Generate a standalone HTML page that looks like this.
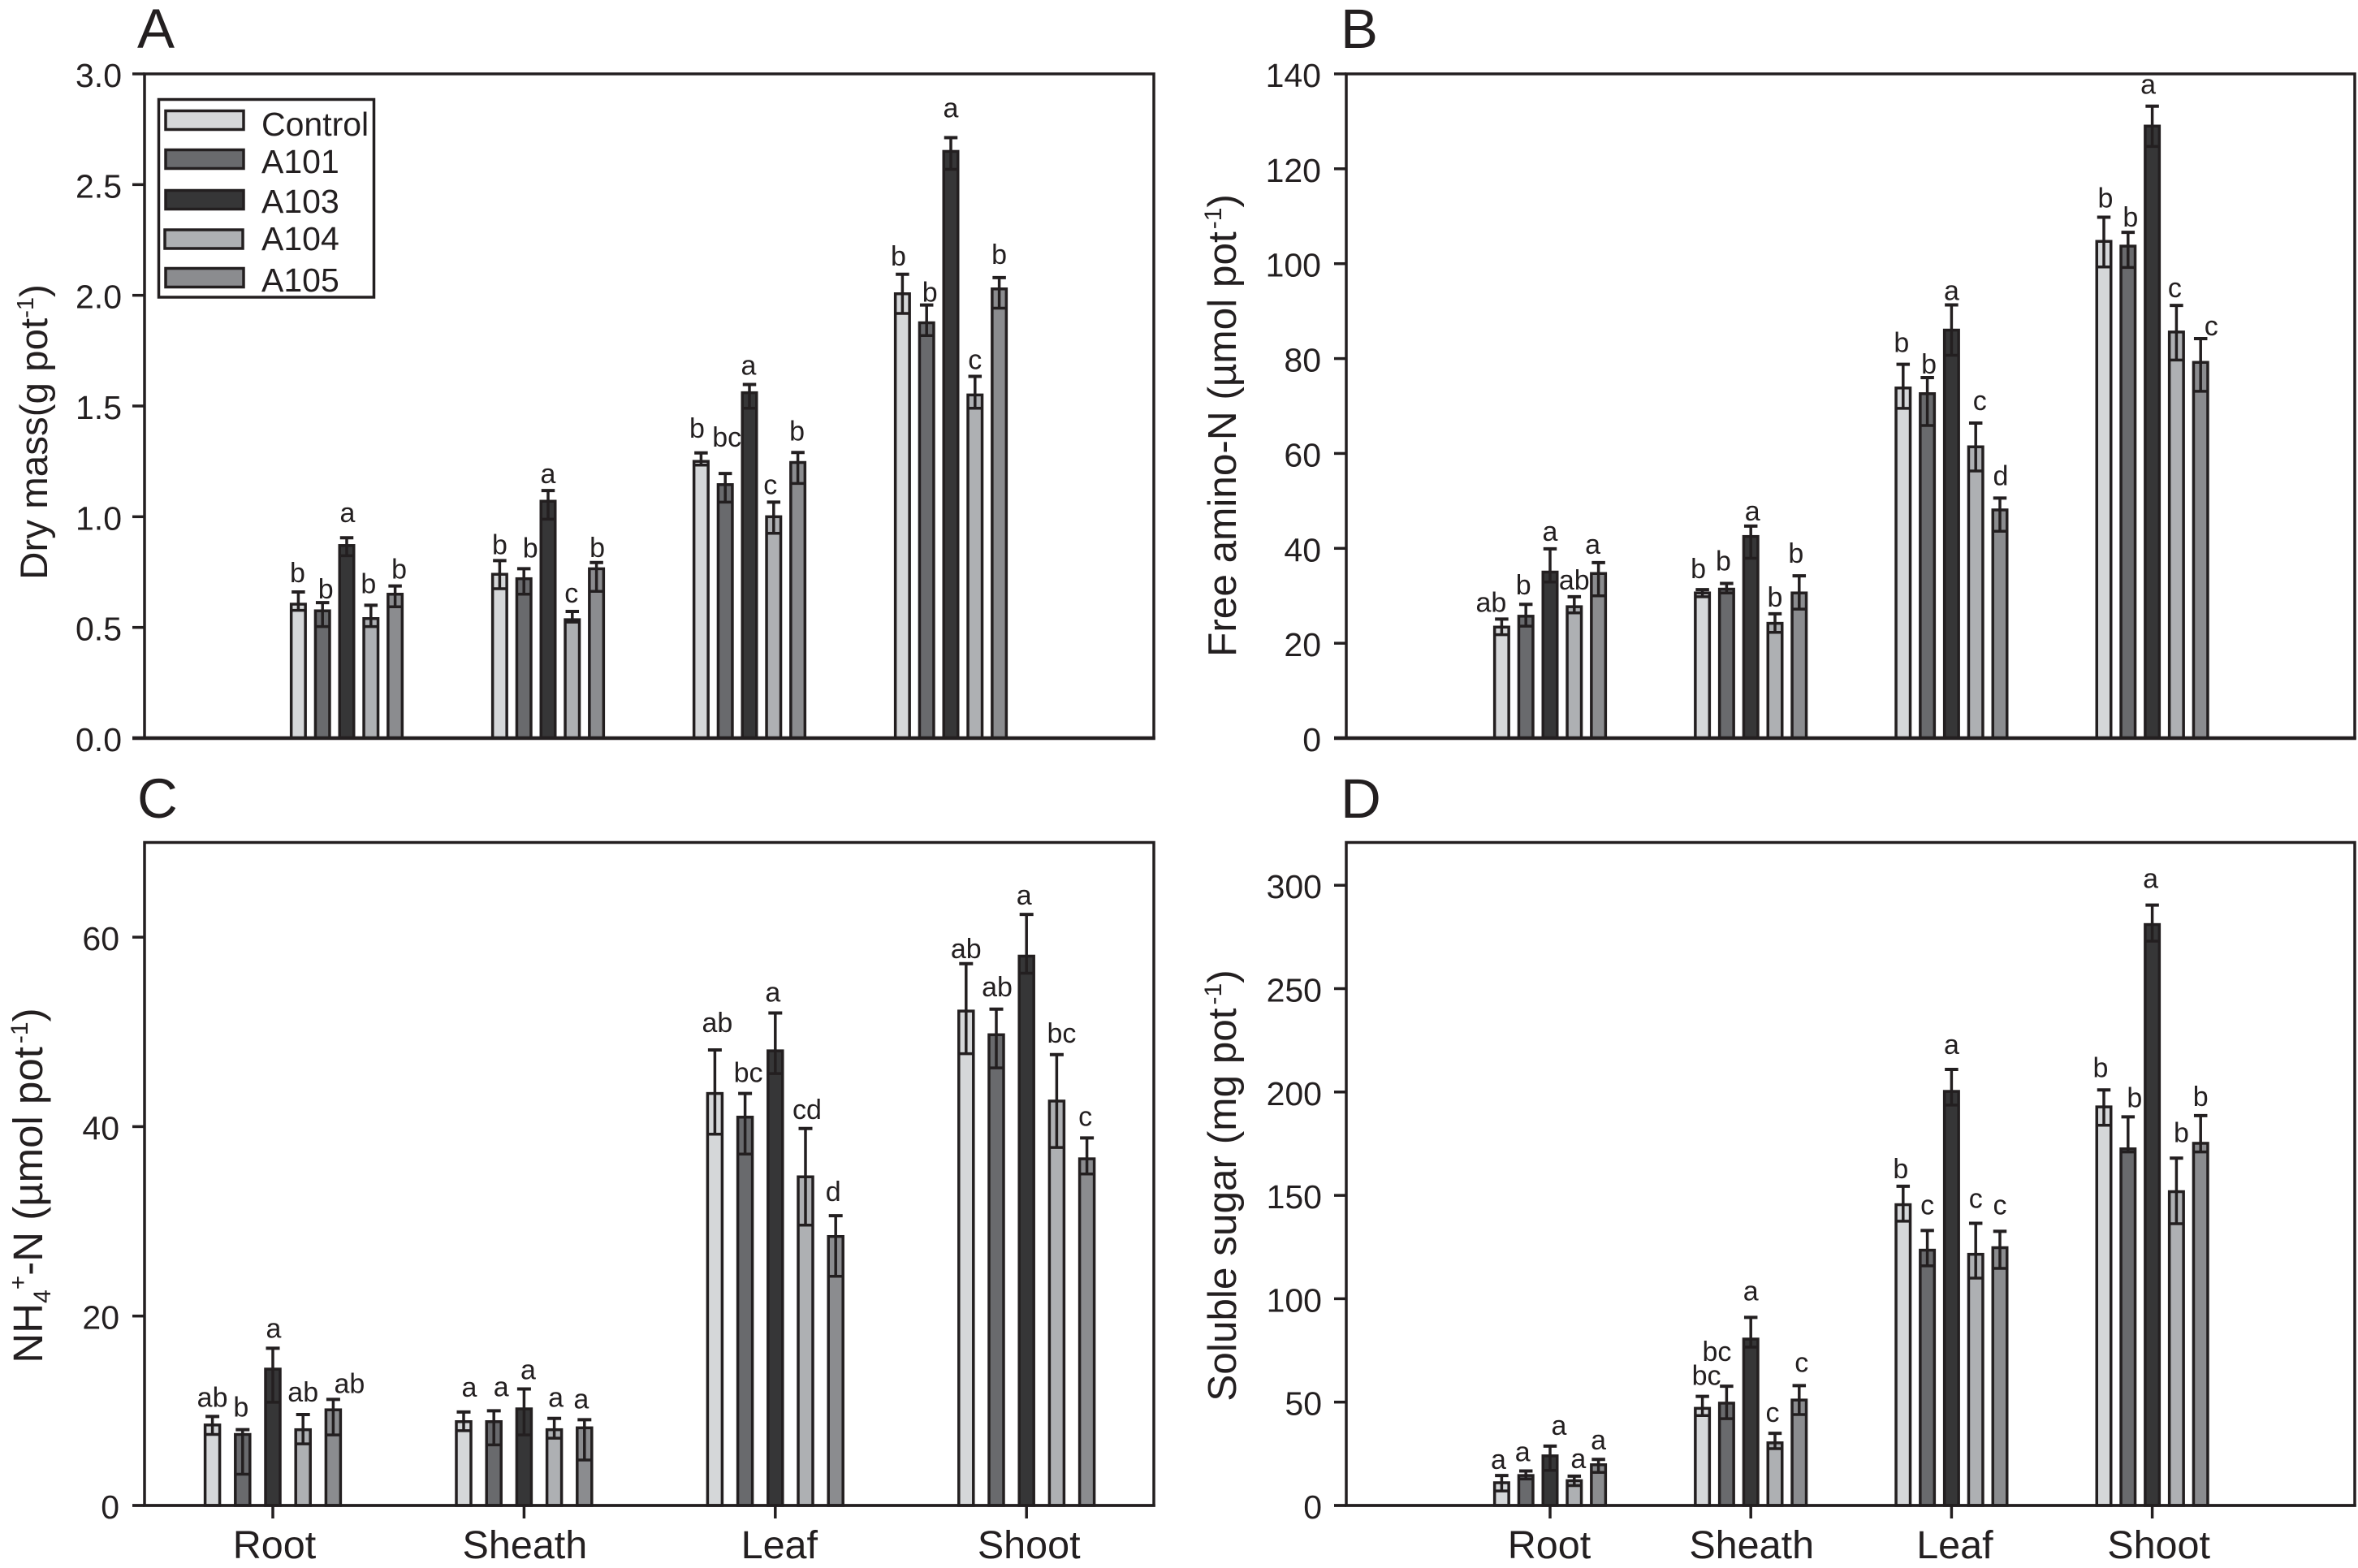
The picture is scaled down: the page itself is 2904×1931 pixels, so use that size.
<!DOCTYPE html>
<html lang="en">
<head>
<meta charset="utf-8">
<title>Dry mass, free amino-N, NH4+-N and soluble sugar by plant part</title>
<style>
html,body{margin:0;padding:0;background:#fff;width:2904px;height:1931px;overflow:hidden}
svg{display:block;font-family:"Liberation Sans",Arial,sans-serif;fill:#231f20}
text{fill:#231f20}
</style>
</head>
<body>
<svg id="figure" xmlns="http://www.w3.org/2000/svg" width="2904" height="1931" viewBox="0 0 2904 1931">
  <rect x="0" y="0" width="2904" height="1931" fill="#ffffff"/>

  <g id="panel-a">
    <text x="169" y="59" font-size="69">A</text>
    <text transform="translate(58,532) rotate(-90)" text-anchor="middle" font-size="47.5">Dry mass(g pot<tspan dy="-17" font-size="29">-1</tspan><tspan dy="17">)</tspan></text>
  </g>
  <g id="panel-b">
    <text x="1651" y="59" font-size="69">B</text>
    <text transform="translate(1522,524) rotate(-90)" text-anchor="middle" font-size="49.5">Free amino-N (µmol pot<tspan dx="3" dy="-18" font-size="30">-1</tspan><tspan dy="18">)</tspan></text>
  </g>
  <g id="panel-c">
    <text x="169" y="1007" font-size="69">C</text>
    <text transform="translate(52,1460) rotate(-90)" text-anchor="middle" font-size="51">NH<tspan dy="10" font-size="30">4</tspan><tspan dy="-30" font-size="30">+</tspan><tspan dy="20">-N (µmol pot</tspan><tspan dx="4" dy="-18" font-size="30">-1</tspan><tspan dy="18">)</tspan></text>
  </g>
  <g id="panel-d">
    <text x="1651" y="1007" font-size="69">D</text>
    <text transform="translate(1522,1460) rotate(-90)" text-anchor="middle" font-size="49.5">Soluble sugar (mg pot<tspan dx="4" dy="-18" font-size="30">-1</tspan><tspan dy="18">)</tspan></text>
  </g>

  <g id="legend">
    <rect x="195.5" y="122.5" width="265" height="243.5" fill="#ffffff" stroke="#231f20" stroke-width="3.5"/>
    <g>
      <rect x="204" y="136.5" width="96" height="23" fill="#d5d7d9" stroke="#231f20" stroke-width="3.5"/>
      <text x="322" y="167" font-size="41">Control</text>
    </g>
    <g>
      <rect x="204" y="184.5" width="96" height="23" fill="#696a6d" stroke="#231f20" stroke-width="3.5"/>
      <text x="322" y="213" font-size="41">A101</text>
    </g>
    <g>
      <rect x="204" y="234.5" width="96" height="23" fill="#363637" stroke="#231f20" stroke-width="3.5"/>
      <text x="322" y="262" font-size="41">A103</text>
    </g>
    <g>
      <rect x="203" y="283" width="96" height="23" fill="#aeb0b3" stroke="#231f20" stroke-width="3.5"/>
      <text x="322" y="308" font-size="41">A104</text>
    </g>
    <g>
      <rect x="204" y="330.5" width="96" height="23" fill="#8b8c8f" stroke="#231f20" stroke-width="3.5"/>
      <text x="322" y="359" font-size="41">A105</text>
    </g>
  </g>
</svg>

<script>
// Shared categories and series. Every table below has rows = category, columns = series.
const categories = ['Root', 'Sheath', 'Leaf', 'Shoot'];
const seriesNames = ['Control', 'A101', 'A103', 'A104', 'A105'];

// Panel A: dry mass (g pot-1)
const aTickLabels = ['0.0', '0.5', '1.0', '1.5', '2.0', '2.5', '3.0'];
const aValues = [[0.605, 0.575, 0.87, 0.54, 0.65], [0.74, 0.72, 1.07, 0.535, 0.765], [1.25, 1.145, 1.56, 1.0, 1.245], [2.007, 1.876, 2.65, 1.55, 2.029]];
const aErrHigh = [[0.66, 0.612, 0.905, 0.6, 0.687], [0.802, 0.765, 1.118, 0.572, 0.793], [1.288, 1.195, 1.597, 1.066, 1.29], [2.095, 1.956, 2.712, 1.634, 2.08]];
const aErrLow = [[0.577, 0.504, 0.824, 0.504, 0.593], [0.675, 0.65, 0.989, 0.524, 0.663], [1.233, 1.066, 1.49, 0.925, 1.15], [1.918, 1.818, 2.569, 1.49, 1.942]];
const aLetters = [['b', 'b', 'a', 'b', 'b'], ['b', 'b', 'a', 'c', 'b'], ['b', 'bc', 'a', 'c', 'b'], ['b', 'b', 'a', 'c', 'b']];

// Panel B: free amino-N (umol pot-1)
const bTickLabels = ['0', '20', '40', '60', '80', '100', '120', '140'];
const bValues = [[23.4, 25.7, 35, 27.7, 34.7], [30.6, 31.4, 42.5, 24.2, 30.6], [73.8, 72.6, 86, 61.4, 48.1], [104.7, 103.7, 129, 85.6, 79.2]];
const bErrHigh = [[25.1, 28.2, 39.9, 29.8, 37], [31.3, 32.6, 44.7, 26.2, 34.2], [78.8, 76, 91.3, 66.4, 50.6], [109.8, 106.6, 133.2, 91.2, 84.2]];
const bErrLow = [[21.8, 23.6, 32.9, 26.4, 30], [29.8, 30.6, 37.9, 22.3, 27.2], [69.5, 65.9, 80.7, 56.3, 43.6], [99.3, 99.2, 124.7, 79.7, 73.1]];
const bLetters = [['ab', 'b', 'a', 'ab', 'a'], ['b', 'b', 'a', 'b', 'b'], ['b', 'b', 'a', 'c', 'd'], ['b', 'b', 'a', 'c', 'c']];

// Panel C: NH4+-N (umol pot-1)
const cTickLabels = ['0', '20', '40', '60'];
const cValues = [[8.5, 7.5, 14.4, 8, 10.1], [8.85, 8.85, 10.2, 8, 8.2], [43.5, 41, 48, 34.7, 28.4], [52.2, 49.7, 58, 42.7, 36.6]];
const cErrHigh = [[9.4, 8, 16.6, 9.6, 11.2], [9.87, 10, 12.3, 9.2, 9.06], [48.1, 43.5, 52, 39.8, 30.6], [57.2, 52.4, 62.4, 47.6, 38.8]];
const cErrLow = [[7.5, 3.3, 10.9, 6.5, 7.45], [7.9, 6.4, 7.45, 7.1, 4.8], [39.2, 37.1, 45.6, 29.6, 24.2], [47.7, 46.2, 56.2, 37.8, 35]];
const cLetters = [['ab', 'b', 'a', 'ab', 'ab'], ['a', 'a', 'a', 'a', 'a'], ['ab', 'bc', 'a', 'cd', 'd'], ['ab', 'ab', 'a', 'bc', 'c']];

// Panel D: soluble sugar (mg pot-1)
const dTickLabels = ['0', '50', '100', '150', '200', '250', '300'];
const dValues = [[11, 14.5, 24, 12, 19.7], [47, 49.5, 80.5, 30.3, 51], [145.5, 123.5, 200.3, 121.5, 124.7], [192.8, 172.5, 281, 151.8, 175.2]];
const dErrHigh = [[14.5, 16.7, 28.7, 14.2, 22.3], [52.8, 57.7, 91, 34.9, 58], [154.4, 133, 210.9, 136.5, 132.6], [201, 188, 290.4, 168, 188.6]];
const dErrLow = [[7, 12.8, 17, 9.6, 16], [43.5, 42, 76.6, 27.5, 44], [137.5, 115.9, 193.7, 110, 114.7], [183.9, 171, 273, 136.3, 171]];
const dLetters = [['a', 'a', 'a', 'a', 'a'], ['bc', 'bc', 'a', 'c', 'c'], ['b', 'c', 'a', 'c', 'c'], ['b', 'b', 'a', 'b', 'b']];

// Layout only: hand placement of each significance letter relative to its error-bar cap.
const aLetterNudgeX = [[-1, 4, 1, -3, 5], [0, 8, 0, -1, 1], [-5, 2, -1, -4, -1], [-5, 4, 0, 0, 0]];
const aLetterGap = [[12, 5, 19, 15, 9], [8, 14, 9, 11, 7], [19, 33, 12, 10, 15], [11, 4, 25, 9, 17]];
const bLetterNudgeX = [[-13, -3, 0, 0, -7], [-5, -4, 2, 0, -4], [-2, 2, 0, 5, 1], [2, 3, -5, -2, 13]];
const bLetterGap = [[9, 12, 10, 9, 11], [14, 16, 7, 9, 16], [15, 5, 6, 16, 16], [12, 7, 15, 10, 4]];
const cLetterNudgeX = [[0, -2, 1, 0, 20], [7, 9, 5, 2, -4], [3, 4, -3, 2, -3], [0, 1, -3, 6, -2]];
const cLetterGap = [[12, 16, 13, 16, 8], [19, 18, 12, 14, 14], [22, 14, 14, 12, 18], [7, 16, 12, 15, 15]];
const dLetterNudgeX = [[-4, -4, 11, 5, 0], [5, -12, 0, -3, 3], [-3, 0, 0, 0, 0], [-4, 8, -2, 6, 0]];
const dLetterGap = [[8, 12, 14, 10, 12], [14, 31, 21, 14, 17], [10, 20, 19, 19, 21], [16, 12, 21, 20, 12]];
const cCategoryNudgeX = [2, 1, 5, 3];
const dCategoryNudgeX = [-1, 1, 4, 8];

const seriesFills = ['#d5d7d9', '#696a6d', '#363637', '#aeb0b3', '#8b8c8f'];
const INK = '#231f20';
const SVG_NS = 'http://www.w3.org/2000/svg';

const panels = [
  { id: 'a', gId: 'panel-a', left: 178, right: 1421, top: 91, bottom: 909, yMax: 3, tickStep: 0.5,
    firstGroup: 427, groupStep: 248, barStep: 29.8, barWidth: 17.5,
    tickLabels: aTickLabels, tickRight: 150, xTicks: false, baseWidth: 4.5,
    values: aValues, high: aErrHigh, low: aErrLow, letters: aLetters, nudge: aLetterNudgeX, gap: aLetterGap },
  { id: 'b', gId: 'panel-b', left: 1658, right: 2900, top: 91, bottom: 909, yMax: 140, tickStep: 20,
    firstGroup: 1909, groupStep: 247.2, barStep: 29.8, barWidth: 17.5,
    tickLabels: bTickLabels, tickRight: 1627, xTicks: false, baseWidth: 4.5,
    values: bValues, high: bErrHigh, low: bErrLow, letters: bLetters, nudge: bLetterNudgeX, gap: bLetterGap },
  { id: 'c', gId: 'panel-c', left: 178, right: 1421, top: 1037.5, bottom: 1854, yMax: 70, tickStep: 20,
    firstGroup: 336, groupStep: 309.4, barStep: 37.2, barWidth: 18,
    tickLabels: cTickLabels, tickRight: 147, xTicks: true, baseWidth: 3.5, categoryNudge: cCategoryNudgeX,
    values: cValues, high: cErrHigh, low: cErrLow, letters: cLetters, nudge: cLetterNudgeX, gap: cLetterGap },
  { id: 'd', gId: 'panel-d', left: 1658, right: 2900, top: 1037.5, bottom: 1854, yMax: 320.7, tickStep: 50,
    firstGroup: 1909, groupStep: 247.2, barStep: 29.8, barWidth: 17.5,
    tickLabels: dTickLabels, tickRight: 1628, xTicks: true, baseWidth: 3.5, categoryNudge: dCategoryNudgeX,
    values: dValues, high: dErrHigh, low: dErrLow, letters: dLetters, nudge: dLetterNudgeX, gap: dLetterGap }
];

function make(parent, tag, attrs, content) {
  const el = document.createElementNS(SVG_NS, tag);
  for (const key in attrs) el.setAttribute(key, attrs[key]);
  if (content !== undefined) el.textContent = content;
  parent.appendChild(el);
  return el;
}

function drawPanel(p) {
  const root = document.getElementById(p.gId);
  const yScale = function (v) { return p.bottom - (v / p.yMax) * (p.bottom - p.top); };
  const groupX = function (c) { return p.firstGroup + c * p.groupStep; };
  const barX = function (c, s) { return groupX(c) + (s - 2) * p.barStep; };

  const marks = make(root, 'g', {});
  
  

  categories.forEach(function (cat, c) {
    seriesNames.forEach(function (ser, s) {
      const cx = barX(c, s);
      const topY = yScale(p.values[c][s]);
      const hiY = yScale(p.high[c][s]);
      const loY = yScale(p.low[c][s]);
      const half = p.barWidth / 2;

      const bar = make(marks, 'rect', { x: cx - half, y: topY, width: p.barWidth, height: p.bottom - topY, fill: seriesFills[s], stroke: INK, 'stroke-width': 3.5 });
      
      

      const stem = make(marks, 'line', { x1: cx, x2: cx, y1: hiY, y2: loY, stroke: INK, 'stroke-width': 3.5 });
      
      

      const capHigh = make(marks, 'line', { x1: cx - half + 0.5, x2: cx + half - 0.5, y1: hiY, y2: hiY, stroke: INK, 'stroke-width': 4 });
      
      

      const capLow = make(marks, 'line', { x1: cx - half, x2: cx + half, y1: loY, y2: loY, stroke: INK, 'stroke-width': 3.5 });
      
      

      const letter = make(marks, 'text', { x: cx + p.nudge[c][s], y: hiY - p.gap[c][s], 'text-anchor': 'middle', 'font-size': 34 }, p.letters[c][s]);
      
      
    });
  });

  const frame = make(root, 'rect', { x: p.left, y: p.top, width: p.right - p.left, height: p.bottom - p.top, fill: 'none', stroke: INK, 'stroke-width': 3.5 });
  
  

  const baseline = make(root, 'line', { x1: p.left - 15, x2: p.right + 1.75, y1: p.bottom, y2: p.bottom, stroke: INK, 'stroke-width': p.baseWidth });
  
  

  p.tickLabels.forEach(function (label, i) {
    const y = yScale(i * p.tickStep);
    const tick = make(root, 'line', { x1: p.left - 15, x2: p.left, y1: y, y2: y, stroke: INK, 'stroke-width': 3.5 });
    
    

    const tickText = make(root, 'text', { x: p.tickRight, y: y + 16, 'text-anchor': 'end', 'font-size': 41 }, label);
    
    
  });

  if (p.xTicks) {
    categories.forEach(function (cat, c) {
      const x = groupX(c);
      const tick = make(root, 'line', { x1: x, x2: x, y1: p.bottom, y2: p.bottom + 16, stroke: INK, 'stroke-width': 3.5 });
      
      

      const catText = make(root, 'text', { x: x + p.categoryNudge[c], y: p.bottom + 65, 'text-anchor': 'middle', 'font-size': 48.5 }, cat);
      
      
    });
  }
}

panels.forEach(drawPanel);

// Keep the legend painted above panel A's frame.
const figure = document.getElementById('figure');
figure.appendChild(document.getElementById('legend'));
</script>
</body>
</html>
